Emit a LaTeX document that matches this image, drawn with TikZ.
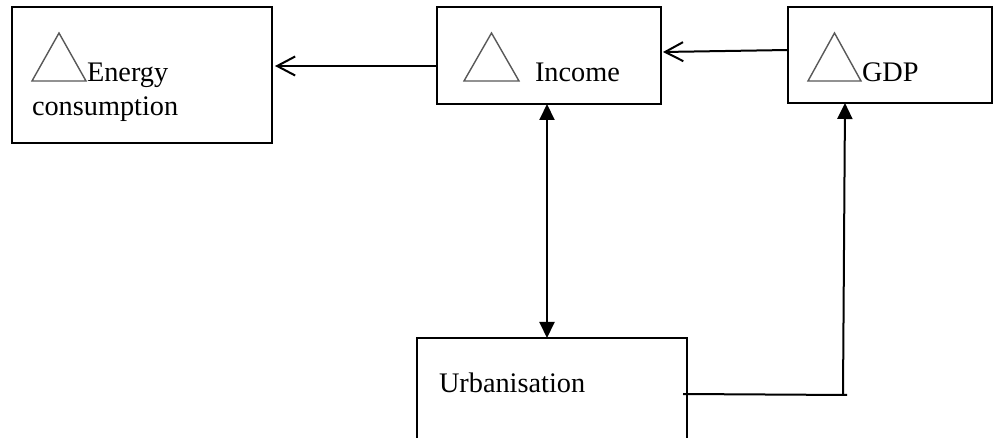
\documentclass[tikz,border=0pt]{standalone}
\usepackage{fontspec}
\setmainfont{Liberation Serif}
\usetikzlibrary{arrows.meta,calc}

\tikzset{
  box/.style={draw=black, line width=1.4pt, inner sep=0pt, outer sep=0pt, fill=none},
  label/.style={anchor=base west, inner sep=0pt, outer sep=0pt,
                font=\fontsize{28.3}{33}\selectfont},
  delta/.style={draw=black!65, line width=1.4pt, line join=miter},
  link/.style={line width=2pt},
  openhead/.style={link, -{Straight Barb[length=18pt,width=19pt]}},
  solidhead/.style={link, -{Triangle[length=16pt,width=15pt]}},
  bothheads/.style={link, {Triangle[length=16pt,width=15pt]}-{Triangle[length=16pt,width=15pt]}}
}

\begin{document}
\begin{tikzpicture}[x=1pt, y=-1pt]
  \useasboundingbox (0,0) rectangle (997,438);
  \clip (0,0) rectangle (997,438);
  \fill[white] (0,0) rectangle (997,438);

  % boxes
  \node[box, minimum width=260pt, minimum height=136pt] (energy) at (142,75) {};
  \node[box, minimum width=224pt, minimum height=97pt]  (income) at (549,55.5) {};
  \node[box, minimum width=204pt, minimum height=96pt]  (gdp)    at (890,55) {};
  \node[box, minimum width=270pt, minimum height=140pt] (urban)  at (552,408) {};

  % delta symbols
  \draw[delta] (32,81)  -- ++(27,-48) -- ++(27,48) -- cycle;
  \draw[delta] (464,81) -- ++(27.5,-48) -- ++(27.5,48) -- cycle;
  \draw[delta] (808,81) -- ++(26.5,-48) -- ++(26.5,48) -- cycle;

  % texts
  \node[label] (tenergy) at (87,82)  {Energy};
  \node[label] (tcons)   at (32,116) {consumption};
  \node[label] (tincome) at (535,82) {Income};
  \node[label] (tgdp)    at (862,82) {GDP};
  \node[label] (turban)  at (439,393) {Urbanisation};

  % connectors
  \draw[openhead] ($(income.west)+(0,10.5)$) -- ($(energy.east)+(3,-9)$);
  \draw[openhead] ($(gdp.west)+(0,-5)$) -- ($(income.east)+(2,-3.5)$);
  \draw[bothheads] ($(income.south)+(-2,0)$) -- ($(urban.north)+(-5,0)$);

  \coordinate (bend) at (843,395);
  \coordinate (hend) at (847,395);
  \draw[link] ($(urban.east)+(-4,-14)$) -- (hend);
  \draw[solidhead] (bend) -- ($(gdp.south)+(-45,0)$);
\end{tikzpicture}
\end{document}
